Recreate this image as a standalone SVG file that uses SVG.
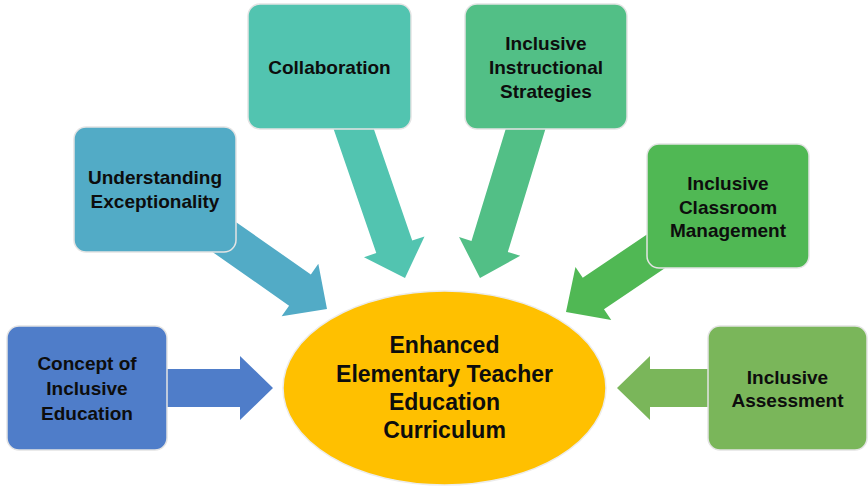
<svg xmlns="http://www.w3.org/2000/svg" width="868" height="487" viewBox="0 0 868 487">
<style>
.box{stroke:#e4e4e4;stroke-width:1.5}
.t{font-family:"Liberation Sans",Arial,sans-serif;font-weight:bold;font-size:19px;fill:#0d0d0d;text-anchor:middle}
.c{font-size:23px}
</style>
<rect width="868" height="487" fill="#ffffff"/>
<g id="connectors">
<path transform="translate(273,388) rotate(0)" d="M0,0 L-33,-32 L-33,-19 L-113,-19 L-113,19 L-33,19 L-33,32 Z" fill="#4F7DC9"/>
<path transform="translate(327,309) rotate(35)" d="M0,0 L-33,-32 L-33,-19 L-150,-19 L-150,19 L-33,19 L-33,32 Z" fill="#52ABC6"/>
<path transform="translate(405,278) rotate(71)" d="M0,0 L-33,-32 L-33,-19 L-175,-19 L-175,19 L-33,19 L-33,32 Z" fill="#52C4B0"/>
<path transform="translate(480,278) rotate(107)" d="M0,0 L-33,-32 L-33,-19 L-175,-19 L-175,19 L-33,19 L-33,32 Z" fill="#52BF86"/>
<path transform="translate(566,312) rotate(146)" d="M0,0 L-33,-32 L-33,-19 L-130,-19 L-130,19 L-33,19 L-33,32 Z" fill="#50B854"/>
<path transform="translate(617,388) rotate(180)" d="M0,0 L-33,-32 L-33,-19 L-120,-19 L-120,19 L-33,19 L-33,32 Z" fill="#7AB65A"/>
</g>
<g id="center">
<ellipse cx="444.5" cy="388" rx="161.5" ry="97" fill="#FFC000" stroke="#ececec" stroke-width="1.5"/>
<text class="t c" x="444.5" y="353">Enhanced</text>
<text class="t c" x="444.5" y="382">Elementary Teacher</text>
<text class="t c" x="444.5" y="410">Education</text>
<text class="t c" x="444.5" y="438">Curriculum</text>
</g>
<g id="concept">
<rect class="box" x="7" y="326" width="160" height="124" rx="12" fill="#4F7DC9"/>
<text class="t" x="87" y="370">Concept of</text>
<text class="t" x="87" y="395">Inclusive</text>
<text class="t" x="87" y="420">Education</text>
</g>
<g id="understanding">
<rect class="box" x="74" y="127" width="162" height="125" rx="12" fill="#52ABC6"/>
<text class="t" x="155" y="184">Understanding</text>
<text class="t" x="155" y="208">Exceptionality</text>
</g>
<g id="collaboration">
<rect class="box" x="248" y="4" width="163" height="125" rx="12" fill="#52C4B0"/>
<text class="t" x="329.5" y="74">Collaboration</text>
</g>
<g id="strategies">
<rect class="box" x="465" y="4" width="162" height="125" rx="12" fill="#52BF86"/>
<text class="t" x="546" y="50">Inclusive</text>
<text class="t" x="546" y="74">Instructional</text>
<text class="t" x="546" y="98">Strategies</text>
</g>
<g id="management">
<rect class="box" x="647" y="144" width="162" height="124" rx="12" fill="#50B854"/>
<text class="t" x="728" y="190">Inclusive</text>
<text class="t" x="728" y="214">Classroom</text>
<text class="t" x="728" y="237">Management</text>
</g>
<g id="assessment">
<rect class="box" x="708" y="326" width="159" height="124" rx="12" fill="#7AB65A"/>
<text class="t" x="787.5" y="384">Inclusive</text>
<text class="t" x="787.5" y="407">Assessment</text>
</g>
</svg>
